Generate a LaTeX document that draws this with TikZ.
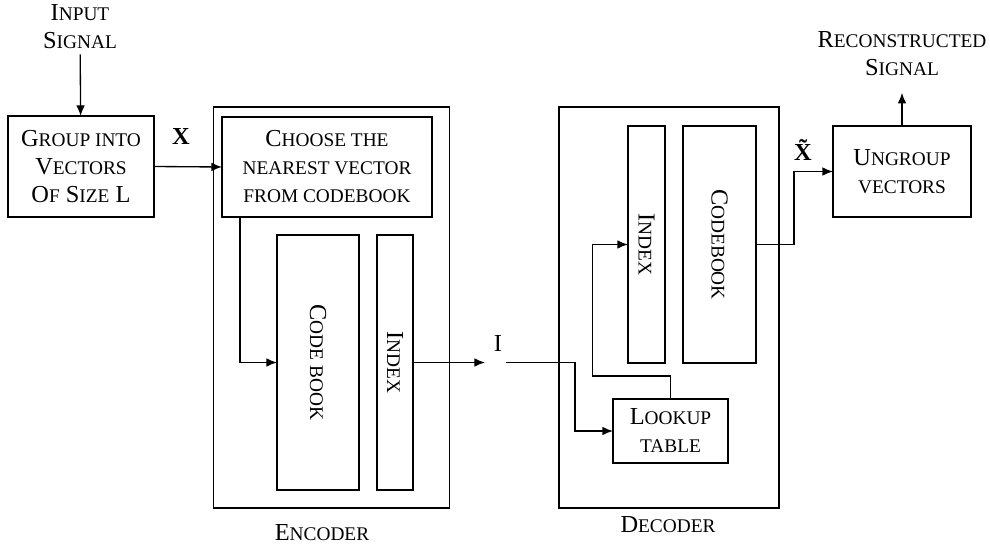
\documentclass[tikz,border=0pt]{standalone}
\usepackage{fontspec}
\setmainfont{Liberation Serif}
\usetikzlibrary{arrows.meta}

% small capitals made by hand
\newcommand\sm[1]{{\fontsize{14.5}{21}\selectfont\uppercase{#1}}}

\tikzset{every picture/.style={line width=1pt}}
\tikzset{
  blk/.style={draw, inner sep=0pt, outer sep=0pt, align=center, font=\fontsize{18.3}{21}\selectfont},
  txt/.style={inner sep=0pt, align=center, font=\fontsize{18.3}{21}\selectfont},
  arr/.style={-{Latex[length=8pt,width=6.5pt]}},
}

\begin{document}
\begin{tikzpicture}[x=0.75pt,y=0.75pt,yscale=-1,xscale=1]
\useasboundingbox (0,0) rectangle (990,552);

%Outer blocks
\node[blk, minimum width=177pt, minimum height=300.75pt] (encoder) at (331.5,307.5) {};
\node[blk, minimum width=165pt, minimum height=300.75pt] (decoder) at (669,307.5) {};

%Blocks (rotated ones: north is on the right, south on the left)
\node[blk, minimum width=109.5pt, minimum height=75.75pt] (group) at (81,166.5) {G\sm{roup into}\\V\sm{ectors}\\O\sm{f} S\sm{ize} L};
\node[blk, minimum width=157.5pt, minimum height=75pt] (choose) at (327,167) {C\sm{hoose the}\\\sm{nearest vector}\\\sm{from codebook}};
\node[blk, rotate=-90, minimum width=191.25pt, minimum height=61.5pt] (codebook) at (318,362.5) {C\sm{ode book}};
\node[blk, rotate=-90, minimum width=191.25pt, minimum height=27pt] (encindex) at (395,362.5) {I\sm{ndex}};
\node[blk, rotate=-90, minimum width=177.75pt, minimum height=27.75pt] (decindex) at (646.5,244.5) {I\sm{ndex}};
\node[blk, rotate=-90, minimum width=177.75pt, minimum height=54.75pt] (deccodebook) at (719.5,244.5) {C\sm{odebook}};
\node[blk, minimum width=86.25pt, minimum height=48pt] (lookup) at (670.5,431) {L\sm{ookup}\\\sm{table}};
\node[blk, minimum width=103.5pt, minimum height=68.25pt] (ungroup) at (902,171.5) {U\sm{ngroup}\\\sm{vectors}};

% Text Node
\node[txt, outer sep=4pt] (insig) at (80,27) {I\sm{nput}\\S\sm{ignal}};
\node[txt] (recon) at (902,54) {R\sm{econstructed}\\S\sm{ignal}};
\node[txt] (xlbl) at (181,137) {\textbf{X}};
\node[txt] (xtlbl) at (807,150) {\textbf{\~{X}}};
\node[txt] (ilbl) at (498,344) {I};
\node[txt] (enclbl) at (322,533) {E\sm{ncoder}};
\node[txt] (declbl) at (668,525) {D\sm{ecoder}};

\coordinate (iend) at (485,362.5);
\coordinate (istart) at (506,362.5);

%Connectors
\draw[arr] (insig) -- (group);
\draw[arr] (group.east) -- (choose.west);
\draw[arr] (choose.south west) ++(18,0) |- (codebook.south);
\draw[arr] (encindex.north) -- (iend);
\draw[arr] (istart) -- ++(69,0) |- (lookup.west);
\draw[arr] (lookup.north) -- ++(0,-23) -- ++(-78,0) |- (decindex.south);
\draw[arr] (deccodebook.north) -- ++(38,0) |- (ungroup.west);
\draw[arr, shorten >=12pt] (ungroup) -- (recon);

\end{tikzpicture}
\end{document}
